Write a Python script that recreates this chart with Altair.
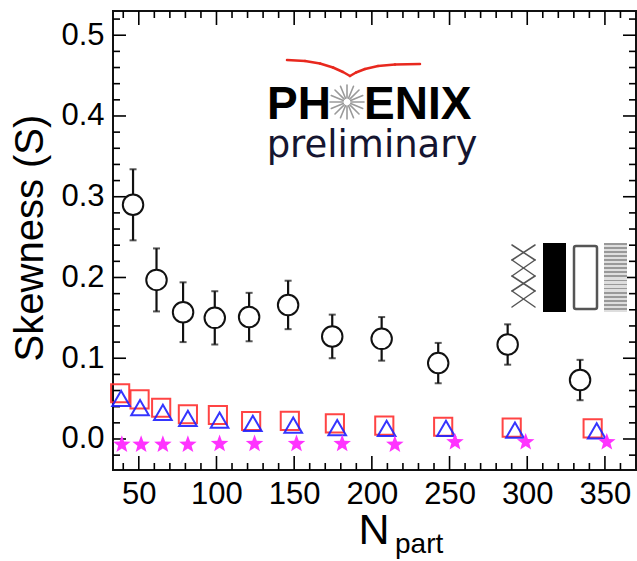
import math
import altair as alt
import pandas as pd

# ---------------- data ----------------
npart_circ = [46.3, 61.4, 78.5, 98.9, 121.0, 146.1, 174.5, 206.3, 242.7, 287.4, 334.0]
skew_circ = [0.290, 0.197, 0.157, 0.150, 0.151, 0.166, 0.127, 0.124, 0.094, 0.117, 0.073]
err_circ = [0.044, 0.039, 0.037, 0.033, 0.030, 0.030, 0.027, 0.027, 0.025, 0.025, 0.025]

npart_sq = [38.0, 50.5, 64.4, 81.6, 100.9, 122.3, 147.2, 176.2, 208.0, 245.9, 290.0, 342.1]
skew_sq = [0.0566, 0.0491, 0.0387, 0.0306, 0.0297, 0.0223, 0.0225, 0.0194, 0.0165, 0.0152, 0.0140, 0.0132]

npart_tri = [38.6, 50.8, 65.5, 81.6, 102.0, 123.4, 149.4, 177.7, 209.5, 247.7, 292.1, 344.7]
skew_tri = [0.0504, 0.0387, 0.0330, 0.0256, 0.0235, 0.0194, 0.0173, 0.0140, 0.0132, 0.0132, 0.0111, 0.0099]

npart_star = [39.1, 51.5, 65.5, 81.6, 102.0, 124.5, 151.5, 180.9, 214.8, 253.5, 299.0, 351.2]
skew_star = [-0.006, -0.006, -0.006, -0.006, -0.005, -0.005, -0.005, -0.005, -0.006, -0.003, -0.003, -0.003]

x_major = [50, 100, 150, 200, 250, 300, 350]
x_minor = [40, 60, 70, 80, 90, 110, 120, 130, 140, 160, 170, 180, 190, 210, 220, 230, 240,
           260, 270, 280, 290, 310, 320, 330, 340, 360]
y_major = [0.0, 0.1, 0.2, 0.3, 0.4, 0.5]
y_minor = [-0.02, 0.02, 0.04, 0.06, 0.08, 0.12, 0.14, 0.16, 0.18, 0.22, 0.24, 0.26, 0.28,
           0.32, 0.34, 0.36, 0.38, 0.42, 0.44, 0.46, 0.48, 0.52]

# ---------------- layout ----------------
W, H = 523, 459
OX, OY = 113, 11          # page position of plot-area origin
FONT = "Liberation Sans"

xs = alt.Scale(domain=[33.4, 370.0], nice=False, zero=False)
ys = alt.Scale(domain=[-0.0384, 0.530], nice=False, zero=False)

xaxis = alt.Axis(values=x_major, orient="bottom", ticks=False, domain=False, grid=False,
                 labelFontSize=31, labelFont=FONT, labelColor="black", labelPadding=9,
                 title=None, labelFlush=False)
yaxis = alt.Axis(values=y_major, orient="left", format=".1f", ticks=False, domain=False,
                 grid=False, labelFontSize=31, labelFont=FONT, labelColor="black",
                 labelPadding=9, title=None)


def X(f):
    return alt.X(f, type="quantitative", scale=xs, axis=xaxis)


def Y(f):
    return alt.Y(f, type="quantitative", scale=ys, axis=yaxis)


# five-pointed star symbol path (unit coordinates)
pts = []
for k in range(10):
    r = 1.0 if k % 2 == 0 else 0.42
    ang = math.radians(-90 + 36 * k)
    pts.append(f"{r * math.cos(ang):.3f},{r * math.sin(ang) + 0.08:.3f}")
STAR = "M" + "L".join(pts) + "Z"

circ = pd.DataFrame({"n": npart_circ, "s": skew_circ, "e": err_circ})
circ["lo"] = circ["s"] - circ["e"]
circ["hi"] = circ["s"] + circ["e"]
sq = pd.DataFrame({"n": npart_sq, "s": skew_sq})
tri = pd.DataFrame({"n": npart_tri, "s": skew_tri})
star = pd.DataFrame({"n": npart_star, "s": skew_star})

layers = []


def tickdf(v):
    return pd.DataFrame({"v": v})


# inward ticks on all four sides
for vals, L in ((y_major, 13), (y_minor, 7)):
    d = tickdf(vals)
    layers.append(alt.Chart(d).mark_rule(color="black", strokeWidth=1.6).encode(
        y=Y("v"), x=alt.value(0), x2=alt.value(L)))
    layers.append(alt.Chart(d).mark_rule(color="black", strokeWidth=1.6).encode(
        y=Y("v"), x=alt.value(W - L), x2=alt.value(W)))
for vals, L in ((x_major, 14), (x_minor, 7)):
    d = tickdf(vals)
    layers.append(alt.Chart(d).mark_rule(color="black", strokeWidth=1.6).encode(
        x=X("v"), y=alt.value(0), y2=alt.value(L)))
    layers.append(alt.Chart(d).mark_rule(color="black", strokeWidth=1.6).encode(
        x=X("v"), y=alt.value(H - L), y2=alt.value(H)))

# error bars + circles
layers.append(alt.Chart(circ).mark_rule(color="#111111", strokeWidth=2.2).encode(
    x=X("n"), y=Y("lo"), y2="hi"))
layers.append(alt.Chart(circ).mark_tick(color="#111111", thickness=2, size=7, orient="horizontal").encode(
    x=X("n"), y=Y("lo")))
layers.append(alt.Chart(circ).mark_tick(color="#111111", thickness=2, size=7, orient="horizontal").encode(
    x=X("n"), y=Y("hi")))
layers.append(alt.Chart(circ).mark_point(shape="circle", size=420, filled=True, fill="white",
                                          stroke="#111111", strokeWidth=2, opacity=1).encode(
    x=X("n"), y=Y("s")))

# squares, triangles, stars
layers.append(alt.Chart(sq).mark_point(shape="square", size=330, filled=False, color="#ff3030",
                                        strokeWidth=2, opacity=0.9).encode(x=X("n"), y=Y("s")))
layers.append(alt.Chart(tri).mark_point(shape="triangle-up", size=310, filled=False, color="#2020ff",
                                         strokeWidth=2, opacity=0.9).encode(x=X("n"), y=Y("s")))
layers.append(alt.Chart(star).mark_point(shape=STAR, size=340, filled=True, color="#ff33ff",
                                          opacity=1).encode(x=X("n"), y=Y("s")))

one = pd.DataFrame({"a": [0]})


def txt(s, px, py, **kw):
    return alt.Chart(one).mark_text(text=s, **kw).encode(
        x=alt.value(px - OX), y=alt.value(py - OY))


def seg(x1, y1, x2, y2, color, w):
    return alt.Chart(one).mark_rule(color=color, strokeWidth=w, strokeCap="round").encode(
        x=alt.value(x1 - OX), y=alt.value(y1 - OY), x2=alt.value(x2 - OX), y2=alt.value(y2 - OY))


# axis titles
layers.append(txt("Skewness (S)", 31, 238, angle=270, font=FONT, fontSize=40, align="center",
                  baseline="middle", color="black"))
layers.append(txt("N", 374, 544, font=FONT, fontSize=43, align="center", baseline="alphabetic",
                  color="black"))
layers.append(txt("part", 395, 553, font=FONT, fontSize=28, align="left", baseline="alphabetic",
                  color="black"))

# PHENIX logo
swoosh = [(287, 60), (305, 61), (320, 63.5), (333, 67.5), (343, 72), (350, 76),
          (356, 72.5), (365, 69), (378, 66), (395, 64.5), (420, 64)]
for (a, b), (c, d) in zip(swoosh[:-1], swoosh[1:]):
    layers.append(seg(a, b, c, d, "#e8281e", 2.5))
layers.append(txt("PH", 331, 119, font=FONT, fontSize=46, fontWeight="bold", align="right",
                  baseline="alphabetic", color="black"))
layers.append(txt("ENIX", 364, 119, font=FONT, fontSize=46, fontWeight="bold", align="left",
                  baseline="alphabetic", color="black"))
cx, cy = 347, 102
for k in range(16):
    ang = 2 * math.pi * k / 16
    layers.append(seg(cx + 4 * math.cos(ang), cy + 4 * math.sin(ang),
                      cx + 17 * math.cos(ang), cy + 17 * math.sin(ang), "#9a9a9a", 1.6))
layers.append(txt("preliminary", 372, 157, font="DejaVu Sans", fontSize=37, align="center",
                  baseline="alphabetic", color="#151530"))

# pattern boxes on the right
zig1 = [(512, 245), (535, 260), (512, 276), (535, 291), (512, 307)]
zig2 = [(535, 245), (512, 260), (535, 276), (512, 291), (535, 307)]
for z in (zig1, zig2):
    for (a, b), (c, d) in zip(z[:-1], z[1:]):
        layers.append(seg(a, b, c, d, "#555555", 1.5))
layers.append(alt.Chart(one).mark_rect(color="black").encode(
    x=alt.value(543 - OX), x2=alt.value(566 - OX), y=alt.value(243 - OY), y2=alt.value(312 - OY)))
layers.append(alt.Chart(one).mark_rect(fill="white", stroke="#555555", strokeWidth=2.5,
                                        cornerRadius=2).encode(
    x=alt.value(574 - OX), x2=alt.value(597 - OX), y=alt.value(246 - OY), y2=alt.value(309 - OY)))
stops = []
n_str = 17
for i in range(n_str):
    a = i / n_str
    b = (i + 0.45) / n_str
    c = (i + 1) / n_str
    stops += [alt.GradientStop(color="#999999", offset=a), alt.GradientStop(color="#999999", offset=b),
              alt.GradientStop(color="#dedede", offset=b), alt.GradientStop(color="#dedede", offset=c)]
grad = alt.LinearGradient(gradient="linear", stops=stops, x1=0, x2=0, y1=0, y2=1)
layers.append(alt.Chart(one).mark_rect(fill=grad).encode(
    x=alt.value(604 - OX), x2=alt.value(627 - OX), y=alt.value(243 - OY), y2=alt.value(312 - OY)))

chart = alt.layer(*layers).properties(
    width=W, height=H,
    autosize=alt.AutoSizeParams(type="none"),
    padding={"left": OX, "top": OY, "right": 637 - OX - W, "bottom": 561 - OY - H},
    background="white",
).configure_view(stroke="#111111", strokeWidth=2)

chart.save("out.html", embed_options={"renderer": "svg", "actions": False})
